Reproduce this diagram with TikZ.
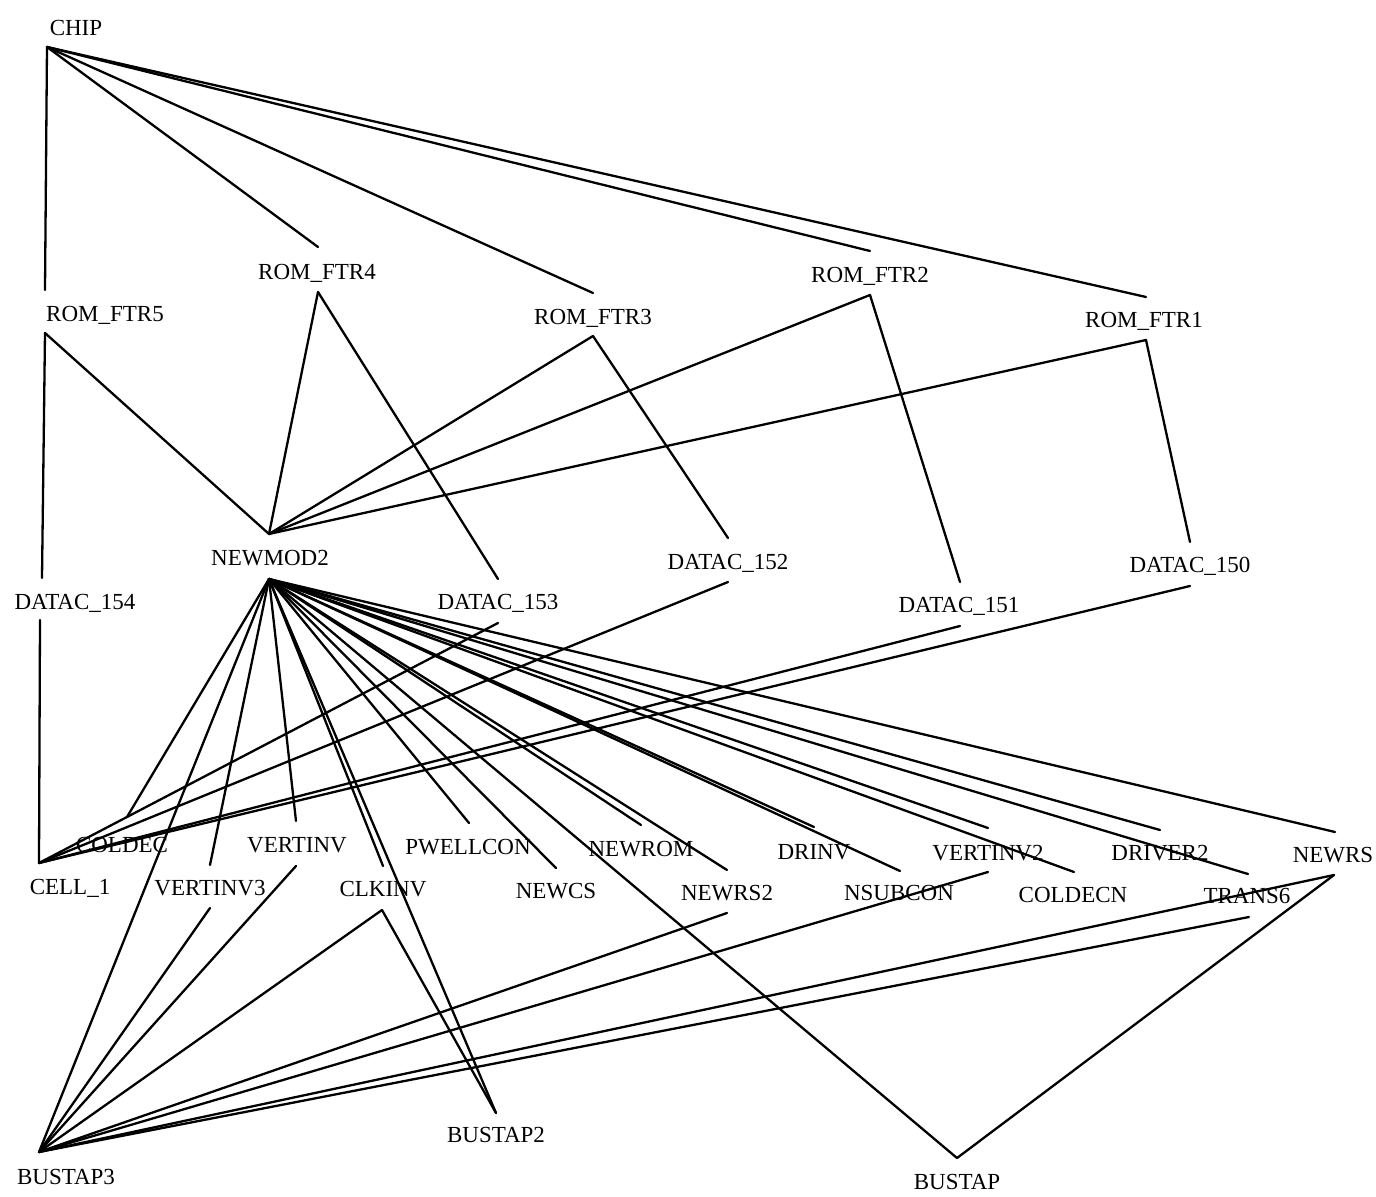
\documentclass[tikz,border=0pt]{standalone}
\usepackage{fontspec}
\setmainfont{Liberation Serif}
\begin{document}
\begin{tikzpicture}[x=0.5pt,y=-0.5pt,
  lbl/.style={font=\fontsize{11.5}{12}\selectfont, inner sep=0pt, text=black},
  link/.style={line width=1.15pt, line cap=round, line join=round, draw=black}]
\fill[white] (0,0) rectangle (1376,1197);
\useasboundingbox (0,0) rectangle (1376,1197);

% ---- labels ----
\node[lbl] (chip)  at (76,28)    {CHIP};
\node[lbl] (rf5)   at (105,315)  {ROM\_FTR5};
\node[lbl] (rf4)   at (317,273)  {ROM\_FTR4};
\node[lbl] (rf3)   at (593,318)  {ROM\_FTR3};
\node[lbl] (rf2)   at (870,276)  {ROM\_FTR2};
\node[lbl] (rf1)   at (1144,321) {ROM\_FTR1};
\node[lbl] (nm2)   at (270,558)  {NEWMOD2};
\node[lbl] (d154)  at (75,603)   {DATAC\_154};
\node[lbl] (d153)  at (498,603)  {DATAC\_153};
\node[lbl] (d152)  at (728,563)  {DATAC\_152};
\node[lbl] (d151)  at (959,606)  {DATAC\_151};
\node[lbl] (d150)  at (1190,566) {DATAC\_150};
\node[lbl] (cdec)  at (122,845)  {COLDEC};
\node[lbl] (vinv)  at (297,845)  {VERTINV};
\node[lbl] (pwc)   at (468,847)  {PWELLCON};
\node[lbl] (nrom)  at (641,849)  {NEWROM};
\node[lbl] (drinv) at (814,852)  {DRINV};
\node[lbl] (vinv2) at (988,853)  {VERTINV2};
\node[lbl] (drv2)  at (1160,853) {DRIVER2};
\node[lbl] (nrs)   at (1333,855) {NEWRS};
\node[lbl] (cell)  at (70,888)   {CELL\_1};
\node[lbl] (vinv3) at (210,888)  {VERTINV3};
\node[lbl] (clk)   at (383,889)  {CLKINV};
\node[lbl] (ncs)   at (556,891)  {NEWCS};
\node[lbl] (nrs2)  at (727,893)  {NEWRS2};
\node[lbl] (nsub)  at (899,893)  {NSUBCON};
\node[lbl] (cdecn) at (1073,895) {COLDECN};
\node[lbl] (tr6)   at (1247,896) {TRANS6};
\node[lbl] (bt3)   at (66,1177)  {BUSTAP3};
\node[lbl] (bt2)   at (496,1135) {BUSTAP2};
\node[lbl] (bt)    at (957,1182) {BUSTAP};

% ---- attachment points (t = from parent, b = to children) ----
\coordinate (chip-b)  at (47,47);
\coordinate (rf5-t)   at (45,290);   \coordinate (rf5-b)   at (45,333);
\coordinate (rf4-t)   at (318,247);  \coordinate (rf4-b)   at (318,292);
\coordinate (rf3-t)   at (593,293);  \coordinate (rf3-b)   at (593,336);
\coordinate (rf2-t)   at (870,251);  \coordinate (rf2-b)   at (870,295);
\coordinate (rf1-t)   at (1146,297); \coordinate (rf1-b)   at (1146,340);
\coordinate (nm2-t)   at (269,534);  \coordinate (nm2-b)   at (269,579);
\coordinate (d154-t)  at (42,578);   \coordinate (d154-b)  at (40,620);
\coordinate (d153-t)  at (498,579);  \coordinate (d153-b)  at (498,623);
\coordinate (d152-t)  at (728,538);  \coordinate (d152-b)  at (728,582);
\coordinate (d151-t)  at (960,582);  \coordinate (d151-b)  at (960,626);
\coordinate (d150-t)  at (1190,542); \coordinate (d150-b)  at (1190,586);
\coordinate (cdec-t)  at (127,817);
\coordinate (vinv-t)  at (296,821);  \coordinate (vinv-b)  at (296,866);
\coordinate (pwc-t)   at (469,823);
\coordinate (nrom-t)  at (641,825);
\coordinate (drinv-t) at (814,827);
\coordinate (vinv2-t) at (988,828);  \coordinate (vinv2-b) at (988,872);
\coordinate (drv2-t)  at (1160,830);
\coordinate (nrs-t)   at (1335,832); \coordinate (nrs-b)   at (1334,875);
\coordinate (cell-t)  at (39,863);
\coordinate (vinv3-t) at (210,865);  \coordinate (vinv3-b) at (210,908);
\coordinate (clk-t)   at (383,866);  \coordinate (clk-b)   at (382,910);
\coordinate (ncs-t)   at (556,868);
\coordinate (nrs2-t)  at (727,870);  \coordinate (nrs2-b)  at (727,913);
\coordinate (nsub-t)  at (900,871);
\coordinate (cdecn-t) at (1074,872);
\coordinate (tr6-t)   at (1248,874); \coordinate (tr6-b)   at (1249,917);
\coordinate (bt3-t)   at (39,1152);
\coordinate (bt2-t)   at (496,1113);
\coordinate (bt-t)    at (957,1158);

% ---- hierarchy links ----
\foreach \c in {rf5,rf4,rf3,rf2,rf1}
  \draw[link] (chip-b) -- (\c-t);
\foreach \p/\c in {rf5/d154,rf4/d153,rf3/d152,rf2/d151,rf1/d150}{
  \draw[link] (\p-b) -- (nm2-t);
  \draw[link] (\p-b) -- (\c-t);
  \draw[link] (\c-b) -- (cell-t);
}
\foreach \c in {cdec,vinv,pwc,nrom,drinv,vinv2,drv2,nrs,
                vinv3,clk,ncs,nrs2,nsub,cdecn,tr6,bt3,bt2,bt}
  \draw[link] (nm2-b) -- (\c-t);
\foreach \c in {vinv3,vinv,clk,nrs2,vinv2,nrs,tr6}
  \draw[link] (\c-b) -- (bt3-t);
\draw[link] (clk-b) -- (bt2-t);
\draw[link] (nrs-b) -- (bt-t);
\end{tikzpicture}
\end{document}
